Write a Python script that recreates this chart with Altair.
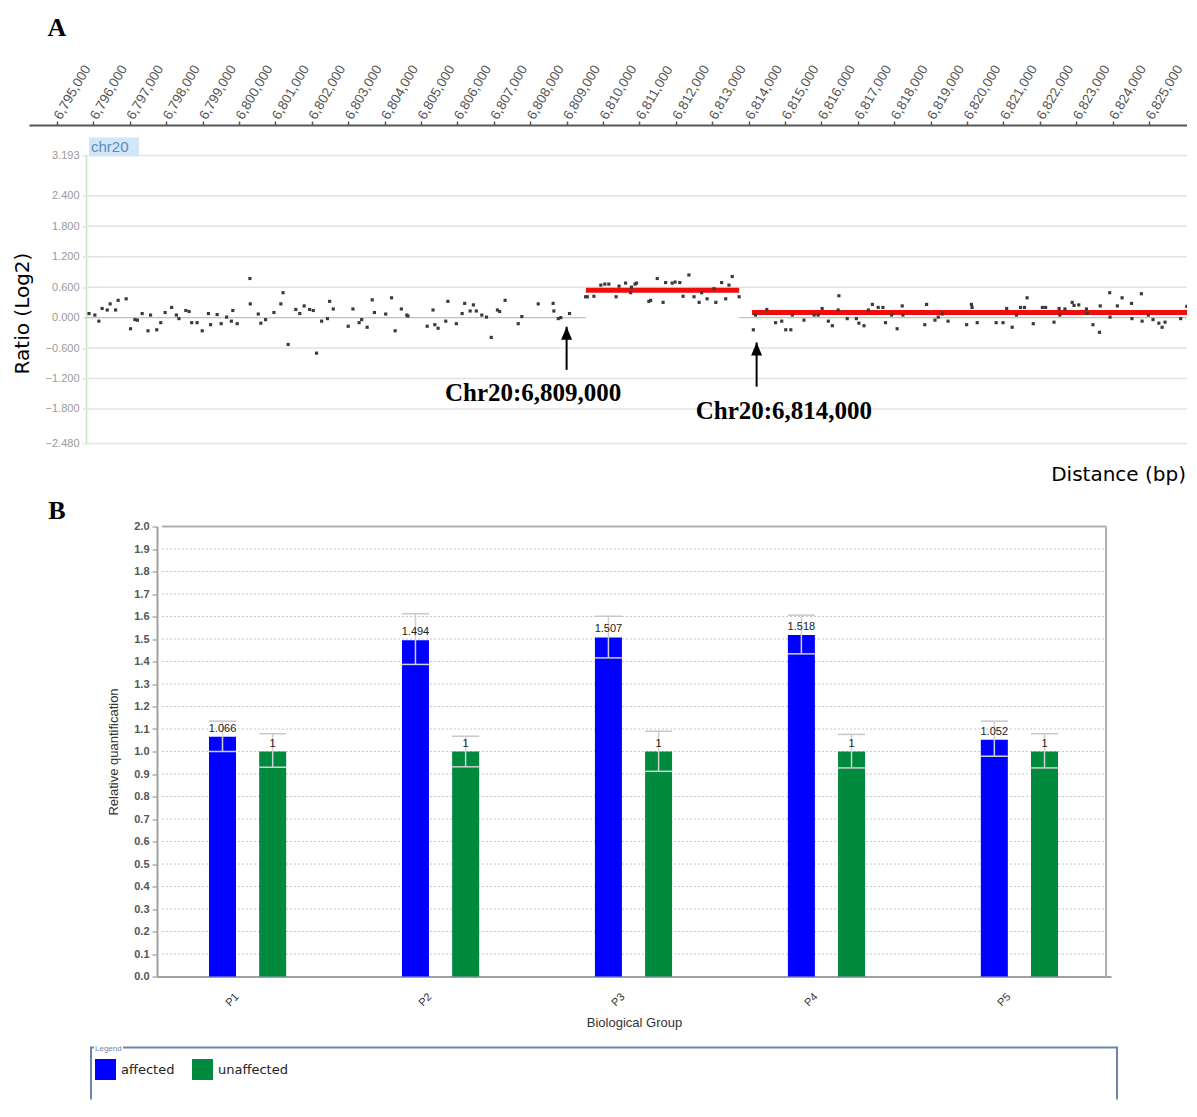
import altair as alt
import pandas as pd

# ---------------- Panel A : array CGH probes (chr20) ----------------
probe_pos = [
    6795880, 6796040, 6796150, 6796240, 6796380, 6796460, 6796610, 6796680, 6796900, 6797020,
    6797140, 6797210, 6797340, 6797500, 6797570, 6797740, 6797850, 6797970, 6798150, 6798280,
    6798350, 6798540, 6798630, 6798700, 6798850, 6798990, 6799160, 6799220, 6799400, 6799510,
    6799660, 6799790, 6799830, 6799950, 6800300, 6800310, 6800530, 6800600, 6800730, 6800960,
    6801150, 6801210, 6801350, 6801560, 6801670, 6801790, 6801940, 6802040, 6802130, 6802270,
    6802430, 6802490, 6802590, 6803000, 6803130, 6803300, 6803370, 6803520, 6803660, 6803720,
    6804030, 6804190, 6804290, 6804460, 6804610, 6804640, 6805170, 6805330, 6805380, 6805470,
    6805680, 6805740, 6805970, 6806130, 6806200, 6806350, 6806440, 6806520, 6806670, 6806800,
    6806930, 6807100, 6807160, 6807310, 6807670, 6807770, 6808220, 6808630, 6808650, 6808770,
    6808840, 6809080, 6809520, 6809570, 6809750, 6809940, 6810050, 6810160, 6810360, 6810440,
    6810620, 6810760, 6810780, 6810880, 6810920, 6811260, 6811310, 6811490, 6811650, 6811720,
    6811900, 6811980, 6812110, 6812200, 6812360, 6812500, 6812640, 6812710, 6812860, 6813050,
    6813100, 6813260, 6813370, 6813460, 6813550, 6813740, 6814130, 6814190, 6814500, 6814740,
    6814910, 6815020, 6815160, 6815200, 6815520, 6815800, 6815910, 6816020, 6816190, 6816300,
    6816460, 6816480, 6816710, 6816960, 6817030, 6817170, 6817290, 6817400, 6817560, 6817690,
    6817760, 6817930, 6818080, 6818220, 6818240, 6818840, 6818890, 6819120, 6819210, 6819320,
    6819480, 6819990, 6820120, 6820140, 6820280, 6820800, 6820990, 6821090, 6821240, 6821360,
    6821470, 6821580, 6821650, 6821820, 6822070, 6822160, 6822390, 6822530, 6822550, 6822690,
    6822890, 6822940, 6823070, 6823280, 6823300, 6823460, 6823640, 6823660, 6823920, 6823930,
    6824130, 6824260, 6824520, 6824530, 6824790, 6824810, 6824980, 6825110, 6825270, 6825360,
    6825440, 6825870, 6826040,
]
probe_log2 = [
    0.08, 0.05, -0.07, 0.18, 0.15, 0.27, 0.15, 0.34, 0.37, -0.22,
    -0.04, -0.05, 0.08, -0.26, 0.05, -0.24, -0.10, 0.10, 0.20, 0.05,
    -0.02, 0.14, 0.12, -0.10, -0.10, -0.26, 0.08, -0.14, 0.06, -0.12,
    0.01, -0.07, 0.14, -0.12, 0.77, 0.27, 0.07, -0.11, -0.04, 0.10,
    0.27, 0.49, -0.53, 0.16, 0.08, 0.23, 0.16, 0.14, -0.70, -0.07,
    -0.02, 0.32, 0.17, -0.17, 0.17, -0.10, -0.04, -0.19, 0.35, 0.10,
    0.07, 0.39, -0.26, 0.17, 0.05, 0.03, -0.17, 0.15, -0.14, -0.21,
    -0.07, 0.32, -0.12, 0.08, 0.28, 0.13, 0.25, 0.13, 0.05, 0.01,
    -0.39, 0.15, 0.12, 0.34, -0.12, 0.02, 0.27, 0.28, 0.13, -0.02,
    0.00, 0.08, 0.41, 0.41, 0.42, 0.64, 0.66, 0.66, 0.41, 0.62,
    0.68, 0.49, 0.60, 0.66, 0.68, 0.32, 0.34, 0.77, 0.30, 0.69,
    0.68, 0.70, 0.69, 0.42, 0.84, 0.41, 0.30, 0.49, 0.37, 0.57,
    0.30, 0.69, 0.37, 0.64, 0.81, 0.41, -0.24, 0.05, 0.16, -0.10,
    -0.07, -0.24, -0.24, 0.05, -0.05, 0.05, 0.05, 0.18, -0.07, -0.16,
    0.15, 0.43, -0.02, -0.02, -0.11, -0.16, 0.15, 0.26, 0.20, 0.20,
    -0.10, 0.05, -0.22, 0.23, 0.05, -0.14, 0.26, -0.05, 0.01, 0.07,
    -0.07, -0.14, 0.26, 0.20, -0.10, -0.10, -0.10, 0.18, -0.19, 0.05,
    0.20, 0.20, 0.39, -0.12, 0.20, 0.20, -0.09, 0.18, 0.05, 0.17,
    0.30, 0.24, 0.25, 0.17, 0.08, -0.14, -0.29, 0.23, 0.49, 0.01,
    0.23, 0.39, 0.28, -0.02, 0.47, -0.07, 0.05, -0.04, -0.11, -0.19,
    -0.09, -0.02, 0.22,
]

seg_start = [6809530, 6814090]
seg_end = [6813740, 6826071]
seg_log2 = [0.54, 0.10]

base_start = [6795797, 6813740]
base_end = [6809530, 6826071]

arrow_pos = [6809000, 6814220]
arrow_tip = [-0.18, -0.49]
arrow_tail = [-1.03, -1.36]
breakpoint_text = ["Chr20:6,809,000", "Chr20:6,814,000"]
text_pos = [6808080, 6814970]
text_log2 = [-1.48, -1.83]

ratio_ticks = [3.193, 2.4, 1.8, 1.2, 0.6, 0.0, -0.6, -1.2, -1.8, -2.48]
bp_ticks = [6795000 + 1000 * i for i in range(31)]
chrom = "chr20"
panel_letters = ["A", "B"]
x_title_a = "Distance (bp)"

# ---------------- Panel B : qPCR relative quantification ----------------
groups = ["P1", "P2", "P3", "P4", "P5"]
series = ["affected", "unaffected"]
affected_rq = [1.066, 1.494, 1.507, 1.518, 1.052]
affected_lo = [1.000, 1.387, 1.416, 1.434, 0.979]
affected_hi = [1.135, 1.612, 1.601, 1.606, 1.135]
unaffected_rq = [1, 1, 1, 1, 1]
unaffected_lo = [0.930, 0.932, 0.912, 0.927, 0.927]
unaffected_hi = [1.079, 1.068, 1.090, 1.076, 1.079]
rq_ticks = [round(0.1 * i, 1) for i in range(21)]
series_colors = ["#0000ff", "#008a3e"]

# ======================= Panel A =======================
WA, HA = 1102, 288
XA_DOM = [6794231, 6826071]
VIEW_START = 6795797

xs_a = alt.Scale(domain=XA_DOM, range=[-57, WA], nice=False, zero=False)
ys_a = alt.Scale(domain=[-2.48, 3.193], nice=False, zero=False)

top_axis = alt.Axis(
    orient="top", values=bp_ticks, format=",d", labelAngle=-60, labelAlign="left",
    labelBaseline="middle", labelFontSize=13.5, labelColor="#555555", labelPadding=3,
    tickSize=4, tickColor="#555555", tickWidth=1.5, domainColor="#555555", domainWidth=2,
    offset=30.5, grid=False, title=None, labelOverlap=False, labelFlush=False,
)
left_axis_a = alt.Axis(
    values=ratio_ticks, format=".3f", labelFontSize=11, labelColor="#9a9a9a", labelPadding=3,
    tickSize=4, tickColor="#d5d5d5", domainColor="#c9e4c2", domainWidth=1.5, grid=False,
    title="Ratio (Log2)", titleFont="DejaVu Sans", titleFontSize=20, titleFontWeight="normal",
    titleColor="#000000", titleAngle=270, titleX=-64, titleY=157.5, titleAlign="center",
    titleBaseline="middle", labelOverlap=False, labelFlush=False,
)


def XA(field="pos"):
    return alt.X(f"{field}:Q", scale=xs_a, axis=top_axis)


def YA(field="log2"):
    return alt.Y(f"{field}:Q", scale=ys_a, axis=left_axis_a)


grid_a = alt.Chart(pd.DataFrame({
    "pos": VIEW_START, "pos_end": XA_DOM[1], "log2": [t for t in ratio_ticks if t != 0]
})).mark_rule(color="#e3e3e3", strokeWidth=1.5).encode(x=XA(), x2="pos_end:Q", y=YA())

zero_a = alt.Chart(pd.DataFrame({
    "pos": base_start, "pos_end": base_end, "log2": 0.0
})).mark_rule(color="#a9d49f", strokeWidth=1.2).encode(x=XA(), x2="pos_end:Q", y=YA())

points_a = alt.Chart(pd.DataFrame({"pos": probe_pos, "log2": probe_log2})).mark_square(
    size=10, color="#3a3a3a", opacity=1
).encode(x=XA(), y=YA())

segs_a = alt.Chart(pd.DataFrame({"pos": seg_start, "pos_end": seg_end, "log2": seg_log2})).mark_rule(
    color="#f20d0d", strokeWidth=5
).encode(x=XA(), x2="pos_end:Q", y=YA())

arrow_df = pd.DataFrame({"pos": arrow_pos, "log2": arrow_tip, "log2_end": arrow_tail})
arrows_a = alt.Chart(arrow_df).mark_rule(color="#000000", strokeWidth=2).encode(
    x=XA(), y=YA(), y2="log2_end:Q"
)
heads_a = alt.Chart(arrow_df).mark_point(
    shape="M0,0L-0.42,1L0.42,1Z", size=676, filled=True, color="#000000", opacity=1, strokeWidth=0
).encode(x=XA(), y=YA())

labels_a = alt.Chart(pd.DataFrame({"pos": text_pos, "log2": text_log2, "txt": breakpoint_text})).mark_text(
    font="Liberation Serif", fontSize=25, fontWeight="bold", color="#000000", align="center", baseline="middle"
).encode(x=XA(), y=YA(), text="txt:N")

chrom_df = pd.DataFrame({"chrom": [chrom]})
chrom_box = alt.Chart(chrom_df).mark_rect(color="#d3e6f6").encode(
    x=alt.value(3), x2=alt.value(53), y=alt.value(-18), y2=alt.value(1)
)
chrom_txt = alt.Chart(chrom_df).mark_text(
    align="left", baseline="middle", fontSize=15, color="#5a8dc2"
).encode(x=alt.value(5), y=alt.value(-8.5), text="chrom:N")

letter_a = alt.Chart(pd.DataFrame({"t": [panel_letters[0]]})).mark_text(
    font="Liberation Serif", fontSize=26, fontWeight="bold", color="#000000", align="center", baseline="middle"
).encode(x=alt.value(-29), y=alt.value(-127.5), text="t:N")

xtitle_a = alt.Chart(pd.DataFrame({"t": [x_title_a]})).mark_text(
    font="DejaVu Sans", fontSize=20, color="#000000", align="right", baseline="middle"
).encode(x=alt.value(1100), y=alt.value(319.5), text="t:N")

panel_a = alt.layer(
    grid_a, zero_a, segs_a, points_a, arrows_a, heads_a, labels_a, chrom_box, chrom_txt, letter_a, xtitle_a
).properties(width=WA, height=HA)

# ======================= Panel B =======================
WB, HB = 1102, 450
XB_DOM = [0.5564, 5.4487]
xs_b = alt.Scale(domain=XB_DOM, range=[71, 1025], nice=False, zero=False)
ys_b = alt.Scale(domain=[0, 2], nice=False, zero=False)

label_expr = "[" + ",".join(f"'{g}'" for g in groups) + "][datum.value - 1]"
bottom_axis_b = alt.Axis(
    values=list(range(1, len(groups) + 1)), labelExpr=label_expr, labelAngle=-45, labelAlign="right",
    labelBaseline="top", labelPadding=14, labelOffset=-15, labelFontSize=11, labelColor="#333333",
    tickSize=0, domainColor="#a0a0a0", domainWidth=2, grid=False, title="Biological Group",
    titleFontSize=13, titleFontWeight="normal", titleColor="#333333", titleX=548, titleY=46,
    titleBaseline="middle", labelFlush=False,
)
left_axis_b = alt.Axis(
    values=rq_ticks, format=".1f", offset=-71, labelFontSize=11, labelFontWeight="bold",
    labelColor="#555555", labelPadding=3, tickSize=5, tickColor="#888888", domainColor="#a0a0a0",
    domainWidth=2, grid=False, title="Relative quantification", titleFontSize=13,
    titleFontWeight="normal", titleColor="#333333", titleAngle=270, titleX=-44, titleY=225,
    titleAlign="center", titleBaseline="middle", labelOverlap=False, labelFlush=False,
)


def XB(field="pos"):
    return alt.X(f"{field}:Q", scale=xs_b, axis=bottom_axis_b)


def YB(field="rq"):
    return alt.Y(f"{field}:Q", scale=ys_b, axis=left_axis_b)


rows = []
for i, g in enumerate(groups):
    rows.append(dict(group=g, slot=i + 1, series=series[0], rq=affected_rq[i], lo=affected_lo[i], hi=affected_hi[i]))
    rows.append(dict(group=g, slot=i + 1, series=series[1], rq=unaffected_rq[i], lo=unaffected_lo[i], hi=unaffected_hi[i]))
bars_df = pd.DataFrame(rows)

base_b = alt.Chart(bars_df).transform_calculate(
    pos=f"datum.slot + (datum.series == '{series[0]}' ? -0.13 : 0.13)",
    label="format(datum.rq, '.4~g')",
    base="0",
)

grid_b = alt.Chart(pd.DataFrame({
    "pos": XB_DOM[0], "pos_end": XB_DOM[1], "rq": [t for t in rq_ticks if 0 < t < 2]
})).mark_rule(color="#c8c8c8", strokeWidth=1, strokeDash=[2, 2]).encode(x=XB(), x2="pos_end:Q", y=YB())

top_border = alt.Chart(pd.DataFrame({"pos": [XB_DOM[0]], "pos_end": [XB_DOM[1]], "rq": [2.0]})).mark_rule(
    color="#b0b0b0", strokeWidth=2
).encode(x=XB(), x2="pos_end:Q", y=YB())
right_border = alt.Chart(pd.DataFrame({"pos": [XB_DOM[1]], "rq": [0.0], "rq_end": [2.0]})).mark_rule(
    color="#b0b0b0", strokeWidth=2
).encode(x=XB(), y=YB(), y2="rq_end:Q")

bars = base_b.mark_bar(size=27).encode(
    x=XB(), y=YB(), y2="base:Q",
    color=alt.Color(
        "series:N",
        scale=alt.Scale(domain=series, range=series_colors),
        legend=alt.Legend(
            orient="none", legendX=9, legendY=889.5, direction="horizontal", title="Legend",
            titleFontSize=8, titleColor="#6b87b0", titleFontWeight="normal", titlePadding=6,
            symbolType="square", symbolSize=441, symbolStrokeWidth=0, symbolOpacity=1,
            labelFont="DejaVu Sans", labelFontSize=13, labelColor="#222222", labelOffset=5,
            columnPadding=17, padding=0,
        ),
    ),
)
err_line = base_b.mark_rule(color="#d0d0d0", strokeWidth=1.5).encode(x=XB(), y=YB("lo"), y2="hi:Q")
err_hi = base_b.mark_tick(orient="horizontal", size=27, thickness=1.5, color="#c8c8c8", opacity=1).encode(
    x=XB(), y=YB("hi")
)
err_lo = base_b.mark_tick(orient="horizontal", size=27, thickness=1.5, color="#d0d0d0", opacity=1).encode(
    x=XB(), y=YB("lo")
)
values_b = base_b.mark_text(baseline="bottom", dy=-3, fontSize=11, color="#222222").encode(
    x=XB(), y=YB(), text="label:N"
)

frame_df = pd.DataFrame({"t": [panel_letters[1]]})
frame_color = "#6a86ad"
frame_left = alt.Chart(frame_df).mark_rule(color=frame_color, strokeWidth=2).encode(
    x=alt.value(5), y=alt.value(521), y2=alt.value(573)
)
frame_right = alt.Chart(frame_df).mark_rule(color=frame_color, strokeWidth=2).encode(
    x=alt.value(1031), y=alt.value(521), y2=alt.value(573)
)
frame_top1 = alt.Chart(frame_df).mark_rule(color=frame_color, strokeWidth=2).encode(
    x=alt.value(4), x2=alt.value(8), y=alt.value(521)
)
frame_top2 = alt.Chart(frame_df).mark_rule(color=frame_color, strokeWidth=2).encode(
    x=alt.value(37), x2=alt.value(1032), y=alt.value(521)
)
letter_b = alt.Chart(frame_df).mark_text(
    font="Liberation Serif", fontSize=26, fontWeight="bold", color="#000000", align="center", baseline="middle"
).encode(x=alt.value(-29), y=alt.value(-16), text="t:N")

panel_b = alt.layer(
    grid_b, top_border, right_border, bars, err_line, err_hi, err_lo, values_b,
    frame_left, frame_right, frame_top1, frame_top2, letter_b
).properties(width=WB, height=HB)

chart = alt.vconcat(panel_a, panel_b, spacing=83, bounds="flush").properties(
    padding={"left": 4, "top": 6.5, "right": -58, "bottom": 0}, background="white"
).configure(font="Liberation Sans").configure_view(stroke=None)

chart.save("out.html", embed_options={"renderer": "svg", "actions": False})
